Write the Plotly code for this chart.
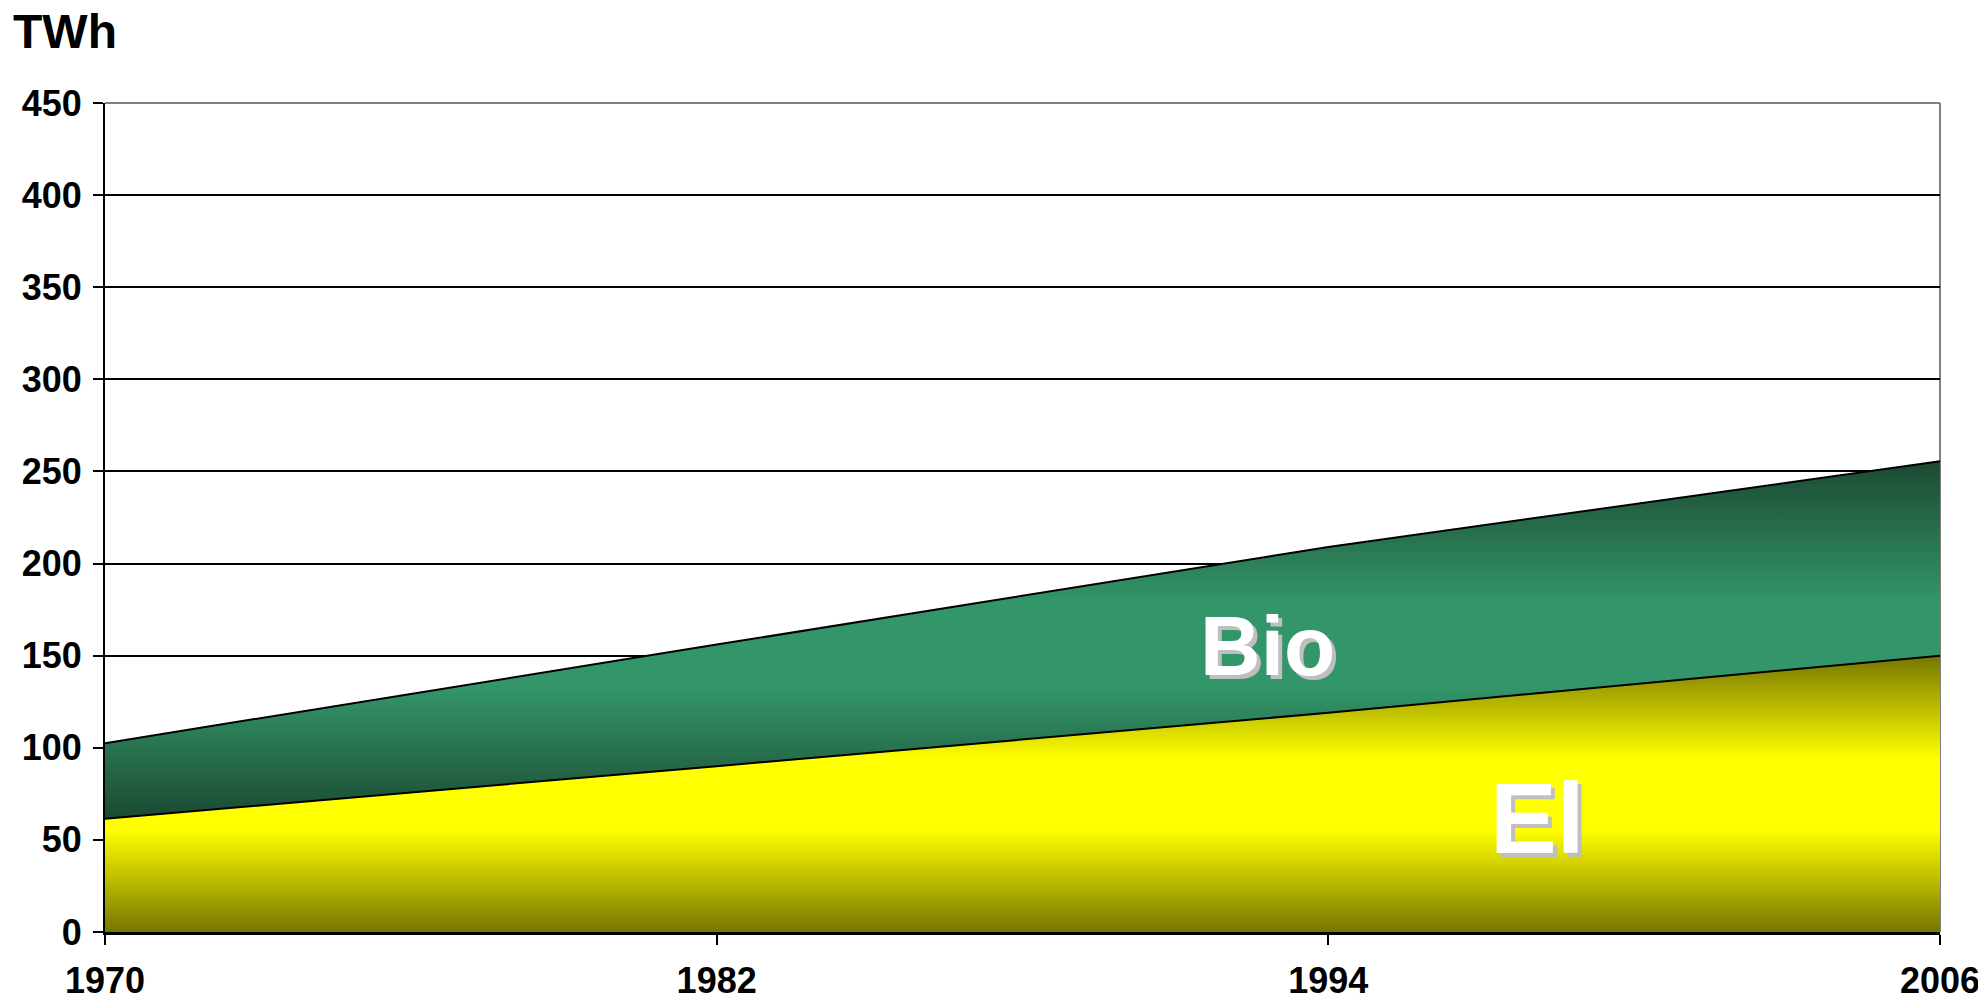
import plotly.graph_objects as go

years = [1970, 1982, 1994, 2006]
el = [61.5, 90, 119, 150]
bio = [41, 66, 90, 105.5]
y_ticks = list(range(0, 451, 50))

FONT = "Arial, Liberation Sans, sans-serif"

total = [a + b for a, b in zip(el, bio)]

fig = go.Figure()

# El (bottom layer)
fig.add_trace(go.Scatter(
    x=years, y=el, name='El', stackgroup='one', mode='lines',
    line=dict(color='black', width=2),
    fillgradient=dict(type='vertical', start=0, stop=max(el),
                      colorscale=[[0, '#767600'], [0.37, '#FFFF00'],
                                  [0.63, '#FFFF00'], [1, '#767600']]),
))

# Bio (stacked on top)
fig.add_trace(go.Scatter(
    x=years, y=bio, name='Bio', stackgroup='one', mode='lines',
    line=dict(color='black', width=2),
    fillgradient=dict(type='vertical', start=min(el), stop=max(total),
                      colorscale=[[0, '#1B4A32'], [0.37, '#33966A'],
                                  [0.6, '#33966A'], [1, '#1B4A32']]),
))

# area labels, white with a light grey drop shadow
labels = [('Bio', 1992.8, 155, 84), ('El', 1998.1, 62, 100)]
for txt, lx, ly, size in labels:
    fig.add_annotation(x=lx, y=ly, text=txt, showarrow=False,
                       font=dict(family=FONT, size=size, color='white', weight='bold',
                                 shadow='4px 4px 0px #BFBFBF'))

fig.add_annotation(
    text='TWh', xref='paper', yref='paper', x=-0.051, y=1.121,
    xanchor='left', yanchor='top', showarrow=False,
    font=dict(family=FONT, size=48, color='black', weight='bold'),
)

# grey frame on top and right
fig.add_shape(type='line', xref='paper', yref='paper', x0=0, x1=1, y0=1, y1=1,
              line=dict(color='#808080', width=2))
fig.add_shape(type='line', xref='paper', yref='paper', x0=1, x1=1, y0=0, y1=1,
              line=dict(color='#808080', width=2), layer='below')

# page body has an 8px margin, so the figure is sized to fit inside the window
fig.update_layout(
    width=1978, height=990,
    margin=dict(l=97, r=46, t=95, b=66, autoexpand=False),
    paper_bgcolor='white', plot_bgcolor='white',
    showlegend=False,
    font=dict(family=FONT, size=36, color='black', weight='bold'),
)

fig.update_xaxes(
    range=[1970, 2006], tickvals=years, ticktext=[str(y) for y in years],
    showgrid=False, zeroline=False, automargin=False,
    showline=True, linecolor='black', linewidth=3,
    ticks='outside', ticklen=10, tickwidth=2, tickcolor='black',
    ticklabelstandoff=5,
)
fig.update_yaxes(
    range=[0, 450], tickvals=y_ticks,
    showgrid=True, gridcolor='black', gridwidth=1.5, zeroline=False, automargin=False,
    showline=True, linecolor='black', linewidth=2,
    ticks='outside', ticklen=10, tickwidth=2, tickcolor='black',
    ticklabelstandoff=4,
)

fig.write_html("out.html")
